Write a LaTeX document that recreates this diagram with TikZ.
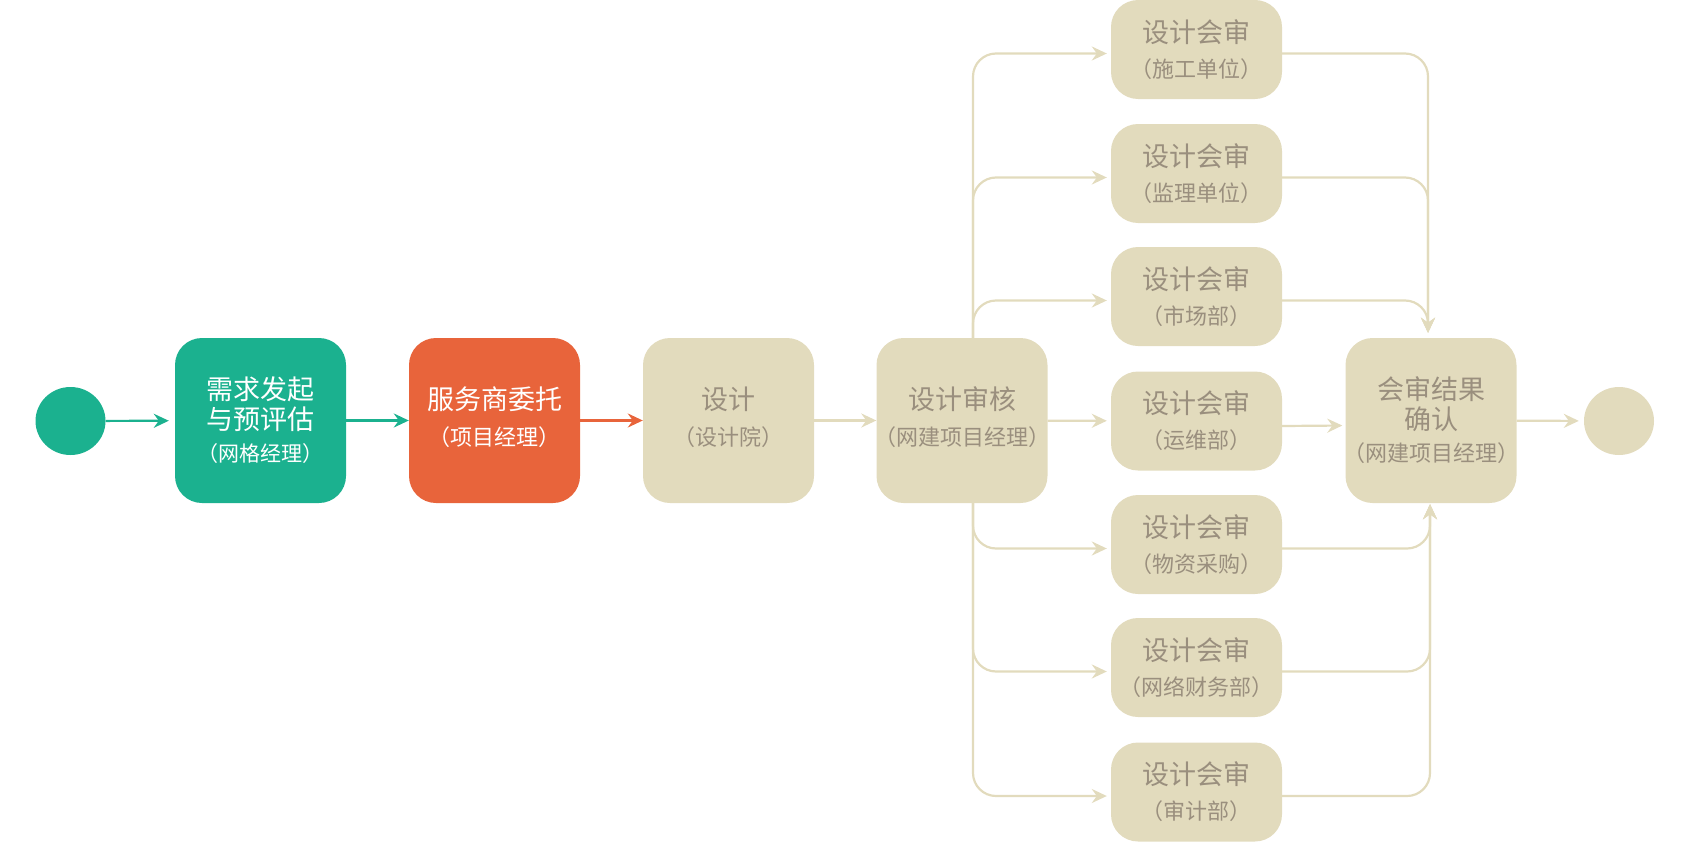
\documentclass[tikz,border=0pt]{standalone}
\usepackage{fontspec}
\setmainfont{Noto Sans CJK SC}[RawFeature=+halt]
\usetikzlibrary{arrows.meta,shapes.geometric,calc}
\definecolor{gcol}{HTML}{1BB18F}
\definecolor{ocol}{HTML}{E8643B}
\definecolor{bcol}{HTML}{E2DBBD}
\definecolor{tcol}{HTML}{9A8F7E}
\newcommand\mysub[1]{{\fontsize{22pt}{30pt}\selectfont #1}}
\newcommand\liftpad{\\[-21pt]\mbox{}}
\begin{document}
\begin{tikzpicture}[x=1pt,y=-1pt,
  box/.style={rounded corners=27pt, minimum width=171pt, minimum height=165pt, inner sep=0pt, align=center, font=\fontsize{27pt}{30pt}\selectfont},
  bbox/.style={box, fill=bcol, text=tcol},
  rbox/.style={bbox, minimum height=99pt},
  dot/.style={ellipse, minimum width=70pt, minimum height=68pt, inner sep=0pt},
  conn/.style={line width=2.2pt, -{Stealth[length=15pt,width=14pt,inset=5pt]}},
  bconn/.style={conn, bcol, rounded corners=23pt}
]
\useasboundingbox (0,0) rectangle (1686,843);
% nodes
\node[dot, fill=gcol] (s) at (70.5,421) {};
\node[box, fill=gcol, text=white] (a) at (260.5,420.5) {需求发起\\与预评估\\[2pt]{\fontsize{21pt}{30pt}\selectfont （网格经理）}};
\node[box, fill=ocol, text=white] (b) at (494.5,420.5) {服务商委托\\[6pt]\mysub{（项目经理）}\liftpad};
\node[bbox] (c) at (728.5,420.5) {设计\\[6pt]\mysub{（设计院）}\liftpad};
\node[bbox] (d) at (962,420.5) {设计审核\\[6pt]\mysub{（网建项目经理）}\liftpad};
\node[rbox] (r1) at (1196.5,49.5) {设计会审\\[5pt]\mysub{（施工单位）}};
\node[rbox] (r2) at (1196.5,173.5) {设计会审\\[5pt]\mysub{（监理单位）}};
\node[rbox] (r3) at (1196.5,296.5) {设计会审\\[5pt]\mysub{（市场部）}};
\node[rbox] (r4) at (1196.5,421) {设计会审\\[5pt]\mysub{（运维部）}};
\node[rbox] (r5) at (1196.5,544.5) {设计会审\\[5pt]\mysub{（物资采购）}};
\node[rbox] (r6) at (1196.5,667.5) {设计会审\\[5pt]\mysub{（网络财务部）}};
\node[rbox] (r7) at (1196.5,792) {设计会审\\[5pt]\mysub{（审计部）}};
\node[bbox] (e) at (1431,420.5) {会审结果\\确认\\[2pt]\mysub{（网建项目经理）}};
\node[dot, fill=bcol] (t) at (1619,421) {};
% helper coordinates
\coordinate (bl) at (973,421);
\coordinate (brt) at (1428,0);
\coordinate (brb) at (1430,0);
% main chain
\draw[conn, gcol, shorten >=6pt] (s) -- (a);
\draw[conn, gcol] (a) -- (b);
\draw[conn, ocol] (b) -- (c);
\draw[conn, bcol] (c) -- (d);
\draw[conn, bcol, shorten >=4pt] (d) -- (r4);
% branches out
\foreach \r in {r1,r2,r3}
  \draw[bconn, shorten >=4pt] (d.north -| bl) |- ([yshift=-4pt]\r.west);
\foreach \r in {r5,r6,r7}
  \draw[bconn, shorten >=4pt] (d.south -| bl) |- ([yshift=-4pt]\r.west);
% branches in
\foreach \r in {r1,r2,r3}
  \draw[bconn, shorten >=5pt] ([yshift=-4pt]\r.east) -| (e.north -| brt);
\foreach \r in {r5,r6,r7}
  \draw[bconn, shorten >=1pt] ([yshift=-4pt]\r.east) -| (e.south -| brb);
\draw[conn, bcol, shorten >=3pt] ([yshift=-5pt]r4.east) -- ([yshift=-5pt]e.west);
\draw[conn, bcol, shorten >=5pt] (e) -- (t);
\end{tikzpicture}
\end{document}
